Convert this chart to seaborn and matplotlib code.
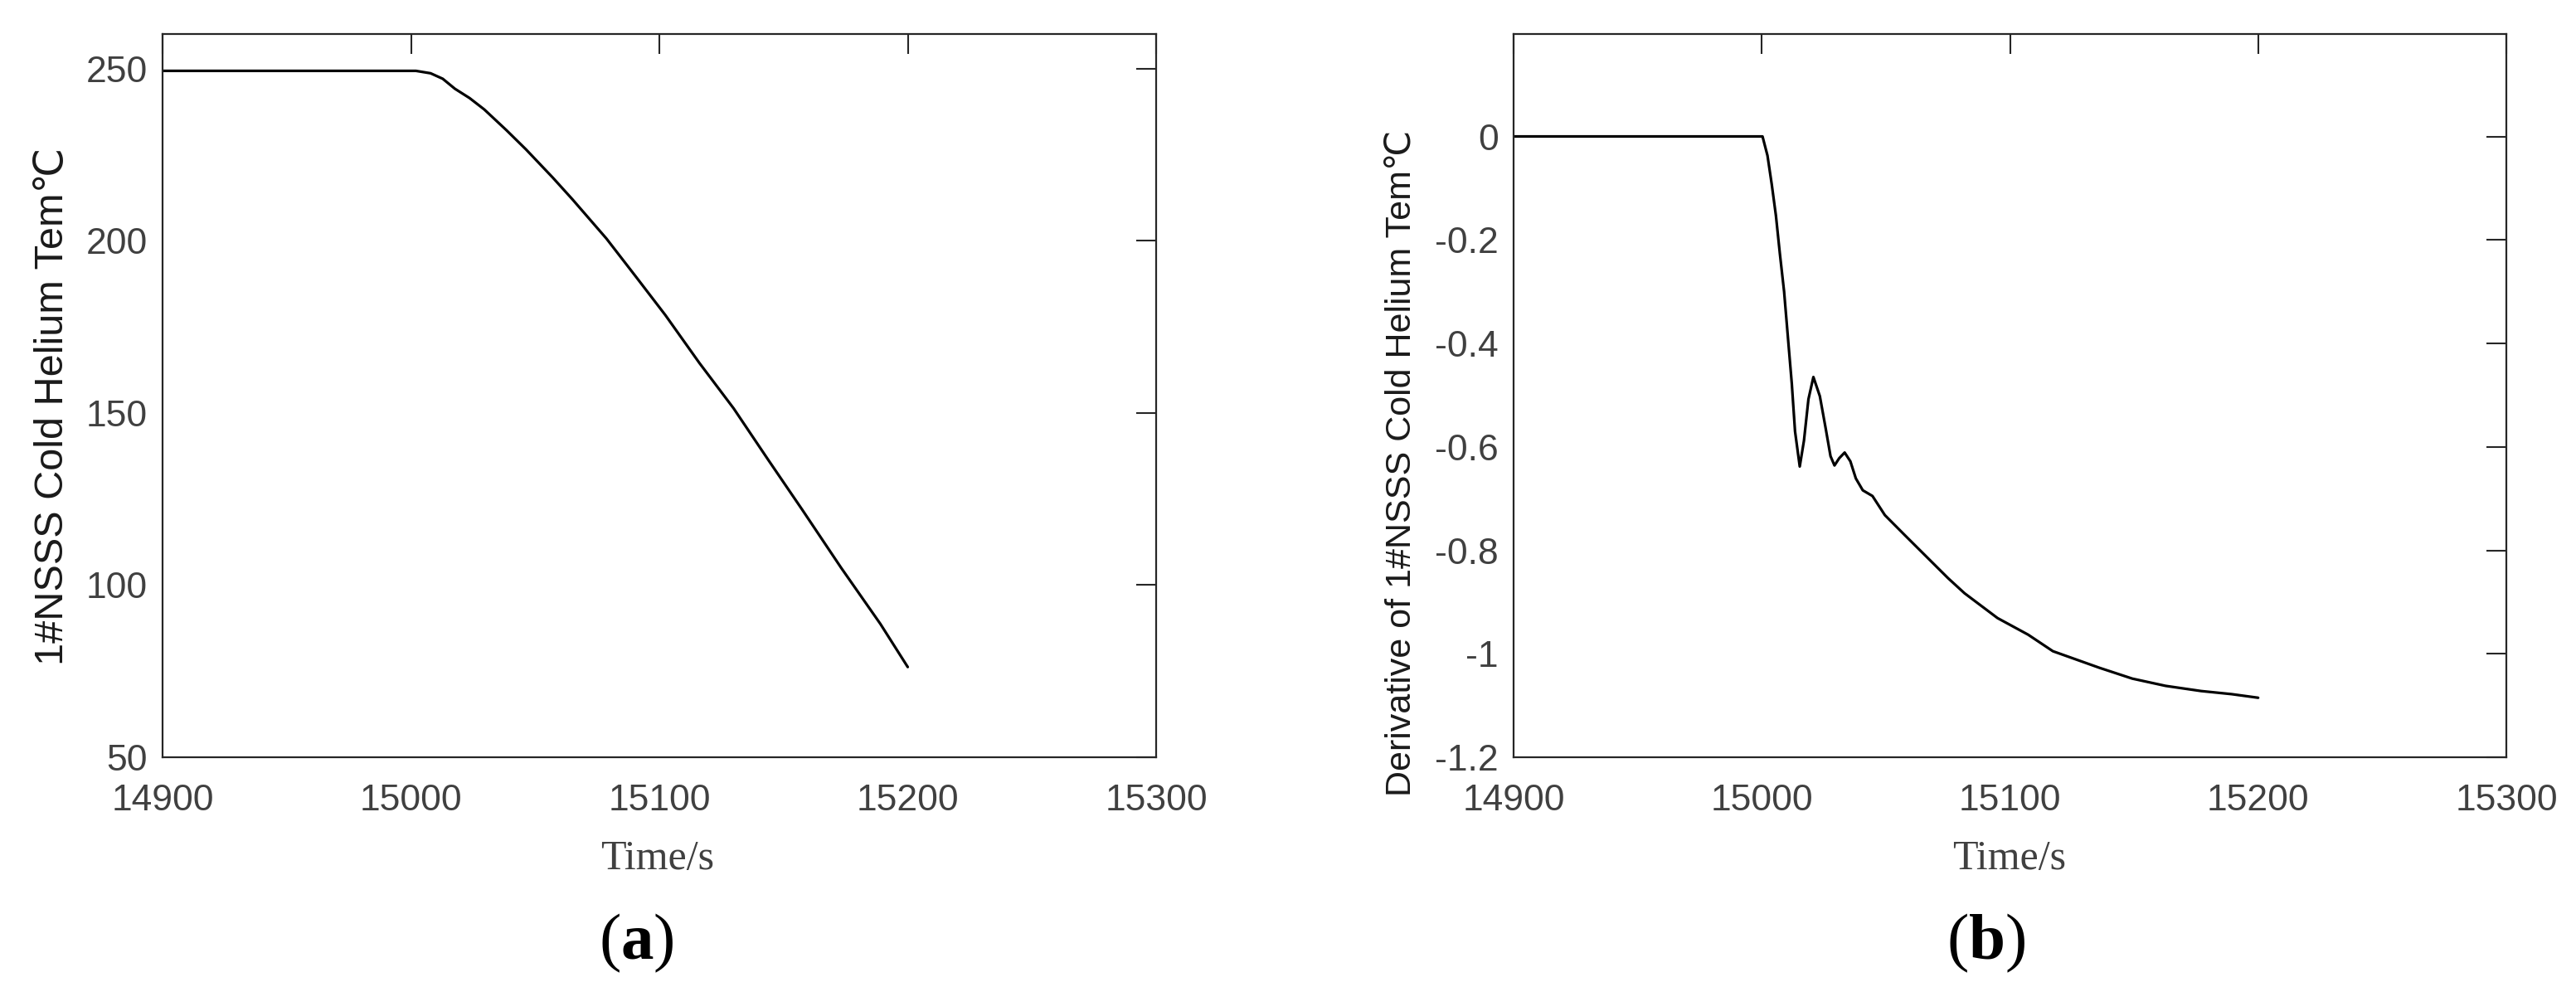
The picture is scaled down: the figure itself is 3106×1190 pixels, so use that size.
import matplotlib
matplotlib.use("Agg")
import matplotlib.pyplot as plt
import seaborn as sns

# (a) cold helium temperature
time_a = [14900, 15002, 15007.9, 15012.8, 15017.7, 15023.6, 15029.5, 15038.4,
          15046.3, 15057.1, 15065, 15078.7, 15090.6, 15102.4, 15116.1, 15129.9,
          15143.7, 15157.5, 15173.2, 15189, 15200]
temp_a = [249.3, 249.3, 248.6, 247.0, 244.1, 241.4, 238.1, 232.1,
          226.5, 218.3, 212.0, 200.6, 189.5, 178.4, 164.5, 151.3,
          136.5, 121.9, 105.0, 88.7, 76.2]

# (b) derivative of the same signal
time_b = [14900, 15000, 15000.3, 15002.3, 15004, 15005.7, 15007.3, 15009, 15010.7,
          15012.1, 15013.4, 15015.3, 15017, 15018.8, 15020.8, 15023.4, 15025.7,
          15027.7, 15029.3, 15031.2, 15033.4, 15035.7, 15037.9, 15040.7, 15044.6,
          15049.6, 15057.9, 15075.1, 15081.7, 15095, 15107.3, 15117.3, 15136,
          15149.3, 15162.7, 15177, 15189.3, 15200]
deriv_b = [0, 0, 0, -0.037, -0.092, -0.153, -0.227, -0.300, -0.398,
           -0.478, -0.570, -0.638, -0.588, -0.508, -0.465, -0.502, -0.563,
           -0.618, -0.636, -0.622, -0.611, -0.628, -0.661, -0.684, -0.695,
           -0.732, -0.772, -0.854, -0.883, -0.931, -0.963, -0.995, -1.027,
           -1.048, -1.062, -1.072, -1.078, -1.085]

x_ticks = [14900, 15000, 15100, 15200, 15300]
y_ticks_a = [50, 100, 150, 200, 250]
y_ticks_b = [0, -0.2, -0.4, -0.6, -0.8, -1, -1.2]
y_labels_b = ['0', '-0.2', '-0.4', '-0.6', '-0.8', '-1', '-1.2']

ylabel_a = '1#NSSS Cold Helium Tem℃'
ylabel_b = 'Derivative of 1#NSSS Cold Helium Tem℃'

sns.set_style("white")
plt.rcParams['font.family'] = ['Liberation Sans', 'DejaVu Sans']
plt.rcParams['mathtext.fontset'] = 'custom'
plt.rcParams['mathtext.rm'] = 'Liberation Serif'
plt.rcParams['mathtext.bf'] = 'Liberation Serif:bold'
plt.rcParams['axes.unicode_minus'] = False

W, H = 3106, 1190
fig = plt.figure(figsize=(W / 100, H / 100), dpi=100)
ax_a = fig.add_axes([196 / W, 1 - 913 / H, 1198 / W, 872 / H])
ax_b = fig.add_axes([1825 / W, 1 - 913 / H, 1197 / W, 872 / H])

sns.lineplot(x=time_a, y=temp_a, ax=ax_a, color='black', linewidth=2.3)
sns.lineplot(x=time_b, y=deriv_b, ax=ax_b, color='black', linewidth=2.3)

ax_a.set_ylim(50, 260)
ax_a.set_yticks(y_ticks_a)
ax_b.set_ylim(-1.2, 0.198)
ax_b.set_yticks(y_ticks_b)
ax_b.set_yticklabels(y_labels_b)

for ax in (ax_a, ax_b):
    ax.set_xlim(14900, 15300)
    ax.set_xticks(x_ticks)
    ax.set_xlabel('')
    ax.set_ylabel('')
    for sp in ax.spines.values():
        sp.set_linewidth(1.6)
        sp.set_color('#262626')
    ax.tick_params(direction='in', length=17, width=1.5, color='#262626',
                   top=True, right=True, labelsize=32, labelcolor='#404040')
    ax.tick_params(axis='x', pad=23)
    ax.tick_params(axis='y', pad=13)

# axis titles
fig.text(63 / W, 1 - 490 / H, ylabel_a, rotation=90, ha='center', va='center',
         fontsize=35, color='#1a1a1a')
fig.text(1690 / W, 1 - 558 / H, ylabel_b, rotation=90, ha='center', va='center',
         fontsize=31, color='#1a1a1a')
for cx in (793, 2423):
    fig.text(cx / W, 1 - 1048 / H, 'Time/s', ha='center', va='baseline',
             family='Liberation Serif', fontsize=36, color='#404040')

# panel tags
fig.text(767 / W, 1 - 1156 / H, r'($\mathbf{a}$)', ha='center', va='baseline',
         family='Liberation Serif', fontsize=57, color='black')
fig.text(2395 / W, 1 - 1156 / H, r'($\mathbf{b}$)', ha='center', va='baseline',
         family='Liberation Serif', fontsize=57, color='black')

fig.savefig('out.png', dpi=100, facecolor='white')
